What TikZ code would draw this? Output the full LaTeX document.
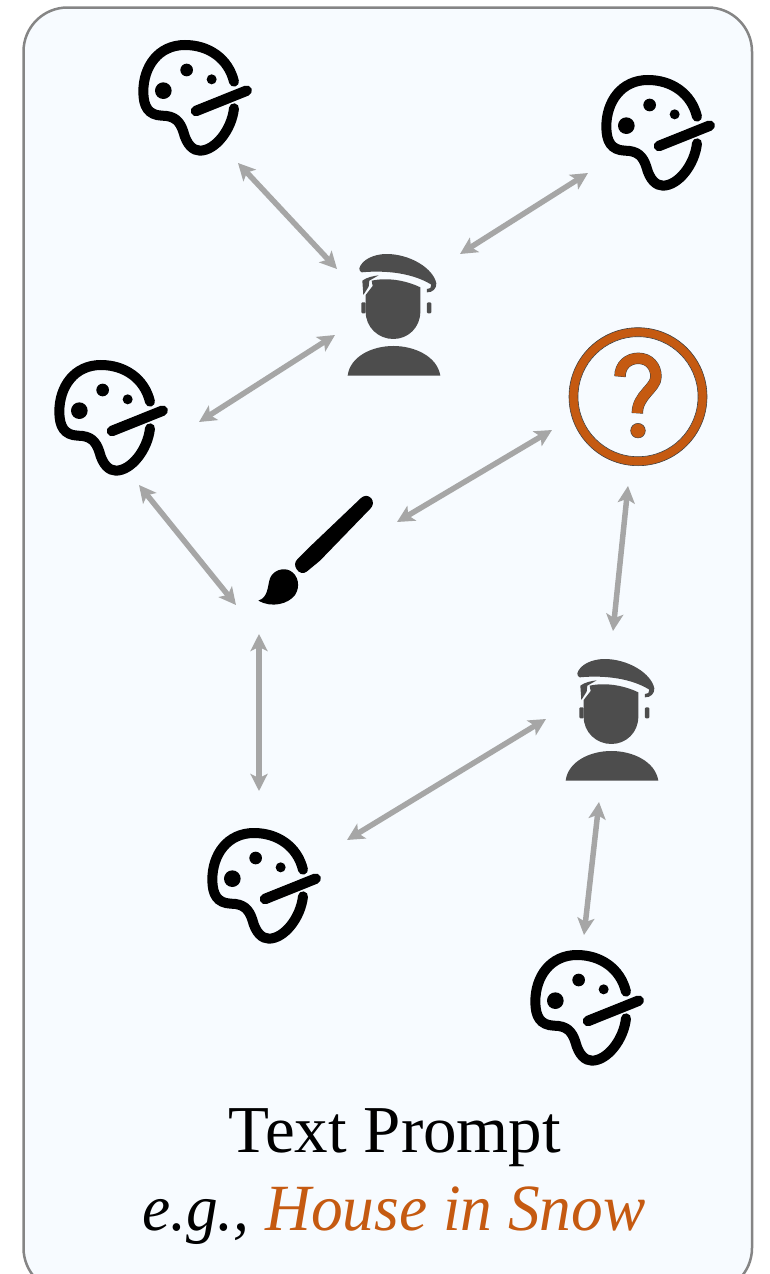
\documentclass[tikz,border=0pt]{standalone}
\usepackage{fontspec}
\usepackage{graphicx}
\setmainfont{Liberation Serif}
\usetikzlibrary{arrows.meta}
\definecolor{panelfill}{HTML}{F7FBFF}
\definecolor{panelline}{HTML}{858585}
\definecolor{arrowgray}{HTML}{A6A6A6}
\definecolor{persongray}{HTML}{4D4D4D}
\definecolor{accent}{HTML}{C55A11}
\tikzset{
  link/.style={draw=arrowgray,line width=5.5pt,{Stealth[length=17pt,width=17pt,inset=4pt]}-{Stealth[length=17pt,width=17pt,inset=4pt]}},
  label/.style={inner sep=0pt,anchor=base},
  palette/.pic={
    \begin{scope}[x=0.3333pt,y=-0.3333pt]
      \draw[black,line width=10pt,line cap=round] (342,155) .. controls (325,85) and (265,45) .. (195,45) .. controls (115,45) and (70,110) .. (70,185) .. controls (70,230) and (85,255) .. (125,257) .. controls (165,257) and (180,275) .. (190,305) .. controls (200,345) and (220,362) .. (240,362) .. controls (285,362) and (335,300) .. (342,235);
      \draw[black,line width=10.5pt,line cap=round] (228,243) -- (380,182);
      \fill[black] (130,182) circle[radius=25] (200,120) circle[radius=19] (275,148) circle[radius=15];
    \end{scope}
  },
  person/.pic={
    \begin{scope}[x=0.3333pt,y=-0.3333pt]
      \fill[persongray] (53,407) .. controls (60,350) and (125,318) .. (190,318) .. controls (255,318) and (322,350) .. (331,407) -- cycle;
      \fill[persongray] (125,122) .. controls (170,112) and (225,120) .. (271,142) -- (271,215) .. controls (271,262) and (235,297) .. (190,297) .. controls (145,297) and (107,262) .. (107,215) -- (107,165) -- (128,138) -- cycle;
      \fill[persongray] (97,122) .. controls (110,112) and (130,108) .. (146,106) -- (118,122) -- (116,140) -- (100,165) -- cycle;
      \fill[persongray] (88,85) .. controls (95,60) and (130,42) .. (170,42) .. controls (240,42) and (310,85) .. (319,130) .. controls (320,145) and (308,158) .. (291,157) -- (291,147) .. controls (298,149) and (306,142) .. (304,134) .. controls (250,100) and (170,90) .. (95,97) .. controls (90,95) and (88,90) .. (88,85) -- cycle;
      \fill[persongray,rounded corners=1pt] (94,187) rectangle (107,220) (291,187) rectangle (304,220);
    \end{scope}
  },
}
\begin{document}
\begin{tikzpicture}[x=1pt,y=-1pt]
\useasboundingbox (0,0) rectangle (769,1274);
\begin{scope}
  \clip (0,0) rectangle (769,1274);
  \draw[draw=panelline,fill=panelfill,line width=2.5pt,rounded corners=44pt] (23.5,7.5) rectangle (752,1292);
\end{scope}

\pic at (120,30) {palette};
\pic at (583,65) {palette};
\pic at (36,350) {palette};
\pic at (189,818) {palette};
\pic at (512,940) {palette};
\pic at (330,240) {person};
\pic at (548,645) {person};

% brush
\begin{scope}[shift={(240,480)},x=0.3333pt,y=-0.3333pt]
  \fill[black] (362,55) .. controls (372,45) and (385,45) .. (394,55) .. controls (402,65) and (399,78) .. (392,85) -- (240,242) -- (200,275) .. controls (190,282) and (178,280) .. (170,268) .. controls (162,256) and (165,245) .. (172,238) -- (212,198) -- cycle;
  \fill[black] (55,362) .. controls (85,352) and (82,320) .. (90,295) .. controls (100,270) and (130,262) .. (150,272) .. controls (175,285) and (182,320) .. (165,345) .. controls (145,372) and (95,385) .. (55,362) -- cycle;
\end{scope}

% question mark
\node[circle,draw=black!75,line width=0.6pt,fill=accent,minimum size=138pt,inner sep=0pt] (qouter) at (638,396.7) {};
\node[circle,draw=black!75,line width=0.6pt,fill=panelfill,minimum size=120pt,inner sep=0pt] (qinner) at (638,396.7) {};
\begin{scope}[shift={(560,320)},x=0.3333pt,y=-0.3333pt]
  \draw[black!75,line width=11.4pt] (180,170) .. controls (180,135) and (205,115) .. (235,115) .. controls (268,115) and (288,140) .. (288,170) .. controls (288,205) and (232,225) .. (232,280);
  \draw[accent,line width=10.4pt] (180,169) .. controls (180,135) and (205,115) .. (235,115) .. controls (268,115) and (288,140) .. (288,170) .. controls (288,205) and (232,225) .. (232,279);
  \filldraw[draw=black!75,fill=accent,line width=0.5pt] (234,332) circle[radius=22];
\end{scope}

% connector ends
\foreach \n/\x/\y in {a1/238/163,a2/337/269,b1/588/173,b2/460/254,c1/335/335,c2/199/422,d1/139/485,d2/236/605,e1/552/430,e2/397/522,f1/628/486,f2/613/631,g1/259/634,g2/259/791,h1/546/719,h2/347/840,i1/599/802,i2/584/935}
  \coordinate (\n) at (\x,\y);
\draw[link] (a1) -- (a2);
\draw[link] (b1) -- (b2);
\draw[link] (c1) -- (c2);
\draw[link] (d1) -- (d2);
\draw[link] (e1) -- (e2);
\draw[link] (f1) -- (f2);
\draw[link] (g1) -- (g2);
\draw[link] (h1) -- (h2);
\draw[link] (i1) -- (i2);

\node[label,font=\fontsize{67}{67}\selectfont] (title) at (395,1152) {Text Prompt};
\node[label,font=\fontsize{66}{66}\selectfont] (example) at (394,1230) {\scalebox{0.96}[1]{\itshape e.g., \textcolor{accent}{House in Snow}}};
\end{tikzpicture}
\end{document}
